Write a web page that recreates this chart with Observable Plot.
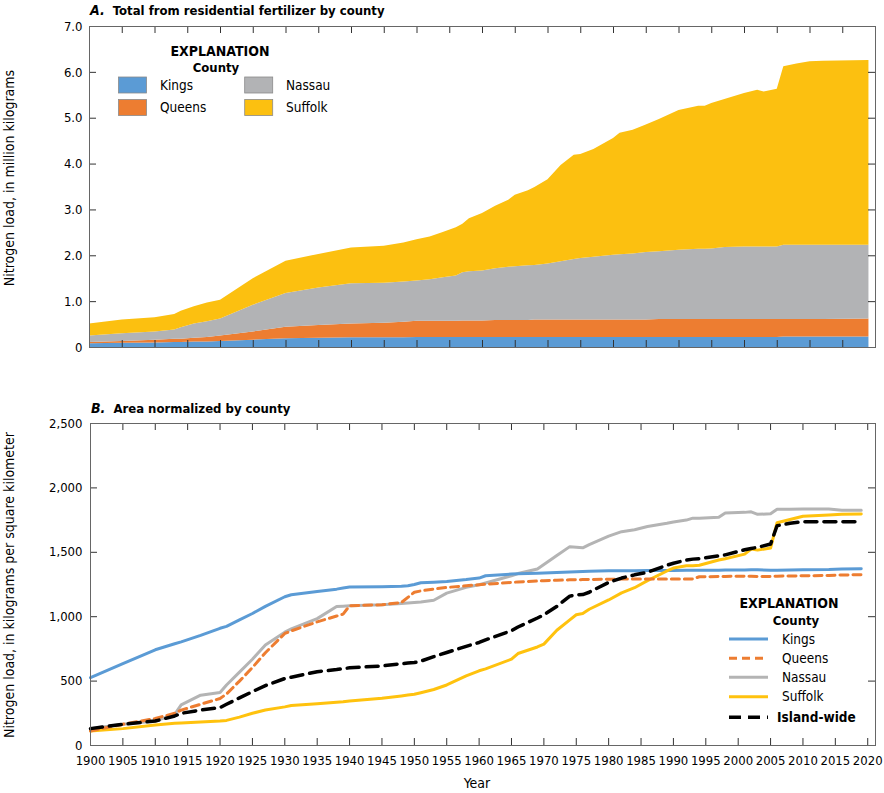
<!DOCTYPE html>
<html><head><meta charset="utf-8">
<script src="https://cdn.jsdelivr.net/npm/d3@7"></script>
<script src="https://cdn.jsdelivr.net/npm/@observablehq/plot@0.6"></script>
<style>
body{margin:0;background:#fff;}
#wrap{position:relative;width:884px;height:793px;overflow:hidden;}
#wrap svg{position:absolute;left:0;}
</style></head><body><div id="wrap"></div>
<script>
// ---------- categories & ticks ----------
const counties = ["Kings", "Queens", "Nassau", "Suffolk"];
const areaColors = ["#5B9BD5", "#ED7D31", "#B2B3B5", "#FCC010"];
const lineColors = ["#5B9BD5", "#ED7D31", "#B4B4B4", "#FFC20E"];
const islandLabel = "Island-wide";
const xTicks = [1900,1905,1910,1915,1920,1925,1930,1935,1940,1945,1950,1955,1960,1965,1970,1975,1980,1985,1990,1995,2000,2005,2010,2015,2020];
const yTicksA = [0,1,2,3,4,5,6,7];
const yTicksB = [0,500,1000,1500,2000,2500];

// ---------- Panel A: load by county, million kg (layer values) ----------
const yearsA = [1900,1905,1910,1913,1914,1916,1918,1920,1925,1930,1935,1940,1945,1948,1950,1952,1954,1956,1957,1958,1960,1962,1964,1965,1967,1968,1970,1972,1974,1975,1977,1980,1981,1983,1985,1987,1990,1993,1994,1995,1997,2000,2002,2003,2005,2006,2008,2010,2012,2019];
const kingsA   = [.08,.09,.10,.11,.11,.12,.12,.13,.16,.19,.20,.21,.21,.21,.22,.22,.22,.22,.22,.22,.22,.22,.22,.22,.22,.22,.22,.22,.22,.22,.22,.22,.22,.22,.22,.22,.22,.22,.22,.22,.22,.22,.22,.22,.22,.23,.23,.23,.23,.23];
const queensA  = [.03,.04,.06,.07,.07,.08,.10,.12,.18,.25,.28,.30,.32,.34,.35,.35,.35,.35,.36,.36,.36,.37,.37,.37,.37,.38,.38,.38,.38,.38,.38,.38,.38,.38,.38,.39,.39,.39,.39,.39,.39,.39,.39,.39,.39,.38,.38,.38,.38,.39];
const nassauA  = [.14,.17,.18,.20,.25,.31,.34,.37,.58,.74,.82,.88,.87,.88,.88,.91,.95,.99,1.05,1.07,1.09,1.13,1.16,1.17,1.19,1.19,1.22,1.27,1.32,1.34,1.37,1.41,1.42,1.44,1.47,1.48,1.51,1.53,1.53,1.54,1.57,1.58,1.58,1.58,1.58,1.62,1.62,1.62,1.62,1.61];
const suffolkA = [.26,.30,.31,.34,.36,.38,.41,.41,.58,.70,.73,.78,.81,.85,.90,.93,.99,1.05,1.06,1.16,1.25,1.36,1.46,1.56,1.64,1.70,1.84,2.10,2.27,2.27,2.35,2.55,2.65,2.70,2.78,2.88,3.05,3.12,3.12,3.17,3.23,3.35,3.42,3.38,3.44,3.89,3.95,4.00,4.01,4.03];

// ---------- Panel B: area normalized, kg per km2 ----------
const yearsB = [1900,1905,1910,1913,1914,1917,1920,1921,1923,1925,1927,1930,1931,1935,1938,1939,1940,1945,1948,1949,1950,1951,1953,1955,1958,1960,1961,1965,1966,1969,1970,1972,1974,1975,1976,1977,1980,1982,1984,1986,1989,1990,1992,1993,1994,1997,1998,2001,2002,2003,2005,2006,2008,2010,2014,2016,2019];
const kingsB   = [527,635,743,790,805,855,910,925,975,1025,1080,1155,1170,1196,1214,1222,1230,1232,1236,1240,1250,1263,1268,1274,1288,1300,1318,1331,1333,1338,1340,1344,1348,1349,1350,1352,1356,1357,1357,1358,1358,1359,1360,1360,1360,1361,1362,1363,1365,1365,1360,1361,1362,1364,1366,1370,1372];
const queensB  = [113,165,210,250,275,320,365,400,500,605,720,870,890,960,1005,1020,1085,1093,1110,1150,1190,1200,1215,1227,1240,1248,1252,1266,1270,1277,1279,1283,1286,1287,1288,1289,1291,1292,1292,1292,1292,1292,1292,1293,1310,1312,1313,1314,1315,1312,1313,1315,1316,1318,1320,1324,1326];
const nassauB  = [131,165,190,242,315,391,411,470,570,670,780,880,905,985,1079,1082,1085,1093,1103,1106,1110,1115,1128,1183,1228,1248,1262,1318,1335,1370,1405,1475,1544,1540,1535,1560,1625,1660,1675,1700,1725,1735,1750,1765,1765,1772,1806,1810,1814,1795,1799,1834,1835,1836,1836,1826,1826];
const suffolkB = [113,131,159,172,175,183,190,195,220,250,275,300,310,325,336,340,346,367,385,392,398,410,435,470,540,580,595,670,714,765,787,895,975,1015,1025,1058,1130,1185,1225,1280,1355,1378,1396,1396,1400,1440,1450,1486,1525,1517,1533,1730,1755,1780,1790,1795,1798];
const islandB  = [131,165,190,229,250,275,294,320,370,418,465,520,530,573,590,597,603,618,635,640,644,655,690,722,770,800,820,891,920,990,1015,1080,1160,1170,1172,1190,1266,1300,1325,1345,1400,1415,1440,1447,1450,1473,1480,1520,1530,1538,1564,1706,1725,1738,1738,1738,1738];

// ---------- build tables ----------
const valuesA = [kingsA, queensA, nassauA, suffolkA];
const valuesB = [kingsB, queensB, nassauB, suffolkB];
const rowsA = yearsA.flatMap((year, i) => counties.map((county, j) => ({year, county, value: valuesA[j][i]})));
const rowsB = counties.flatMap((county, j) => yearsB.map((year, i) => ({year, county, value: valuesB[j][i]})));
const islandRows = yearsB.map((year, i) => ({year, value: islandB[i]}));

const FONT = '"Liberation Sans Narrow","Arial Narrow","DejaVu Sans Condensed",sans-serif';
const TICK = 7;
const wrap = document.getElementById("wrap");

// ---------- Panel A ----------
const WA = 884, HA = 360, mlA = 89, mrA = 9, mtA = 26, mbA = 13;
const iwA = WA - mlA - mrA, ihA = HA - mtA - mbA;
const plotA = Plot.plot({
  width: WA, height: HA, marginLeft: mlA, marginRight: mrA, marginTop: mtA, marginBottom: mbA,
  style: {fontFamily: FONT, fontSize: "13px", background: "transparent", color: "#000"},
  x: {domain: [1900, 2020], axis: null},
  y: {domain: [0, 7], axis: null},
  color: {domain: counties, range: areaColors},
  marks: [
    Plot.areaY(rowsA, {x: "year", y: "value", fill: "county"}),
    Plot.ruleX(xTicks, {stroke: "#333", insetTop: ihA - TICK}),
    Plot.ruleX(xTicks, {stroke: "#333", insetBottom: ihA - TICK}),
    Plot.ruleY(yTicksA, {stroke: "#333", insetRight: iwA - TICK}),
    Plot.ruleY(yTicksA, {stroke: "#333", insetLeft: iwA - TICK}),
    Plot.frame({stroke: "#666"}),
    Plot.axisY({ticks: yTicksA, tickSize: 0, tickPadding: 7, label: null, tickFormat: d => d === 0 ? "0" : d.toFixed(1)})
  ]
});
plotA.style.top = "0px";
wrap.appendChild(plotA);

// ---------- Panel B ----------
const topB = 400;
const WB = 884, HB = 393, mlB = 90, mrB = 9, mtB = 23, mbB = 48;
const iwB = WB - mlB - mrB, ihB = HB - mtB - mbB;
const plotB = Plot.plot({
  width: WB, height: HB, marginLeft: mlB, marginRight: mrB, marginTop: mtB, marginBottom: mbB,
  style: {fontFamily: FONT, fontSize: "13px", background: "transparent", color: "#000"},
  x: {domain: [1900, 2021.2], axis: null},
  y: {domain: [0, 2500], axis: null},
  color: {domain: counties, range: lineColors},
  marks: [
    Plot.ruleX(xTicks, {stroke: "#333", insetTop: ihB - TICK}),
    Plot.ruleX(xTicks, {stroke: "#333", insetBottom: ihB - TICK}),
    Plot.ruleY(yTicksB, {stroke: "#333", insetRight: iwB - TICK}),
    Plot.ruleY(yTicksB, {stroke: "#333", insetLeft: iwB - TICK}),
    Plot.line(rowsB.filter(d => d.county === "Nassau"), {x: "year", y: "value", stroke: "county", strokeWidth: 3}),
    Plot.line(rowsB.filter(d => d.county === "Kings"), {x: "year", y: "value", stroke: "county", strokeWidth: 3}),
    Plot.line(rowsB.filter(d => d.county === "Suffolk"), {x: "year", y: "value", stroke: "county", strokeWidth: 3}),
    Plot.line(rowsB.filter(d => d.county === "Queens"), {x: "year", y: "value", stroke: "county", strokeWidth: 3, strokeDasharray: "8,5"}),
    Plot.line(islandRows, {x: "year", y: "value", stroke: "#000", strokeWidth: 3.5, strokeDasharray: "12,7"}),
    Plot.frame({stroke: "#666"}),
    Plot.axisY({ticks: yTicksB, tickSize: 0, tickPadding: 8, label: null, tickFormat: d3.format(",")}),
    Plot.axisX({ticks: xTicks, tickSize: 0, tickPadding: 10, label: null, tickFormat: d => String(d)})
  ]
});
plotB.style.top = topB + "px";
wrap.appendChild(plotB);

// ---------- overlay texts & legends ----------
const ov = d3.select(wrap).append("svg")
  .attr("width", 884).attr("height", 793)
  .style("top", "0px").style("font-family", FONT).style("pointer-events", "none");

function title(x, y, letter, text) {
  const t = ov.append("text").attr("x", x).attr("y", y).attr("font-size", 13).attr("font-weight", "bold");
  t.append("tspan").attr("font-style", "italic").attr("font-size", 14).text(letter);
  t.append("tspan").attr("dx", 8).text(text);
}
title(90, 15, "A.", "Total from residential fertilizer by county");
title(91, 413, "B.", "Area normalized by county");

ov.append("text").attr("transform", "translate(13.5,178) rotate(-90)").attr("text-anchor", "middle")
  .attr("font-size", 14).text("Nitrogen load, in million kilograms");
ov.append("text").attr("transform", "translate(13.5,585) rotate(-90)").attr("text-anchor", "middle")
  .attr("font-size", 14).text("Nitrogen load, in kilograms per square kilometer");
ov.append("text").attr("x", 477).attr("y", 788).attr("text-anchor", "middle").attr("font-size", 14).text("Year");

// Legend A
ov.append("text").attr("x", 220).attr("y", 56).attr("text-anchor", "middle").attr("font-size", 14).attr("font-weight", "bold").text("EXPLANATION");
ov.append("text").attr("x", 216).attr("y", 72).attr("text-anchor", "middle").attr("font-size", 13).attr("font-weight", "bold").text("County");
const legA = [[118.5, 77, 160, 90], [118.5, 99.5, 160, 112], [244.7, 77, 286, 90], [244.7, 99.5, 286, 112]];
counties.forEach((c, i) => {
  const [sx, sy, tx, ty] = legA[i];
  ov.append("rect").attr("x", sx).attr("y", sy).attr("width", 28).attr("height", 16)
    .attr("fill", areaColors[i]).attr("stroke", "#8a8a8a").attr("stroke-width", 0.8);
  ov.append("text").attr("x", tx).attr("y", ty).attr("font-size", 13.5).text(c);
});

// Legend B
ov.append("text").attr("x", 789).attr("y", 608).attr("text-anchor", "middle").attr("font-size", 14).attr("font-weight", "bold").text("EXPLANATION");
ov.append("text").attr("x", 796).attr("y", 625).attr("text-anchor", "middle").attr("font-size", 13).attr("font-weight", "bold").text("County");
const rowY = [639, 658.3, 677.3, 696.7, 717.3];
counties.forEach((c, i) => {
  ov.append("line").attr("x1", 729).attr("x2", 768).attr("y1", rowY[i]).attr("y2", rowY[i])
    .attr("stroke", lineColors[i]).attr("stroke-width", 3)
    .attr("stroke-dasharray", c === "Queens" ? "8,5" : null);
  ov.append("text").attr("x", 782).attr("y", rowY[i] + 4.5).attr("font-size", 13.5).text(c);
});
ov.append("line").attr("x1", 729).attr("x2", 768).attr("y1", rowY[4]).attr("y2", rowY[4])
  .attr("stroke", "#000").attr("stroke-width", 3.5).attr("stroke-dasharray", "12,7");
ov.append("text").attr("x", 777).attr("y", rowY[4] + 4.5).attr("font-size", 13.5).attr("font-weight", "bold").text(islandLabel);
</script>
</body></html>
